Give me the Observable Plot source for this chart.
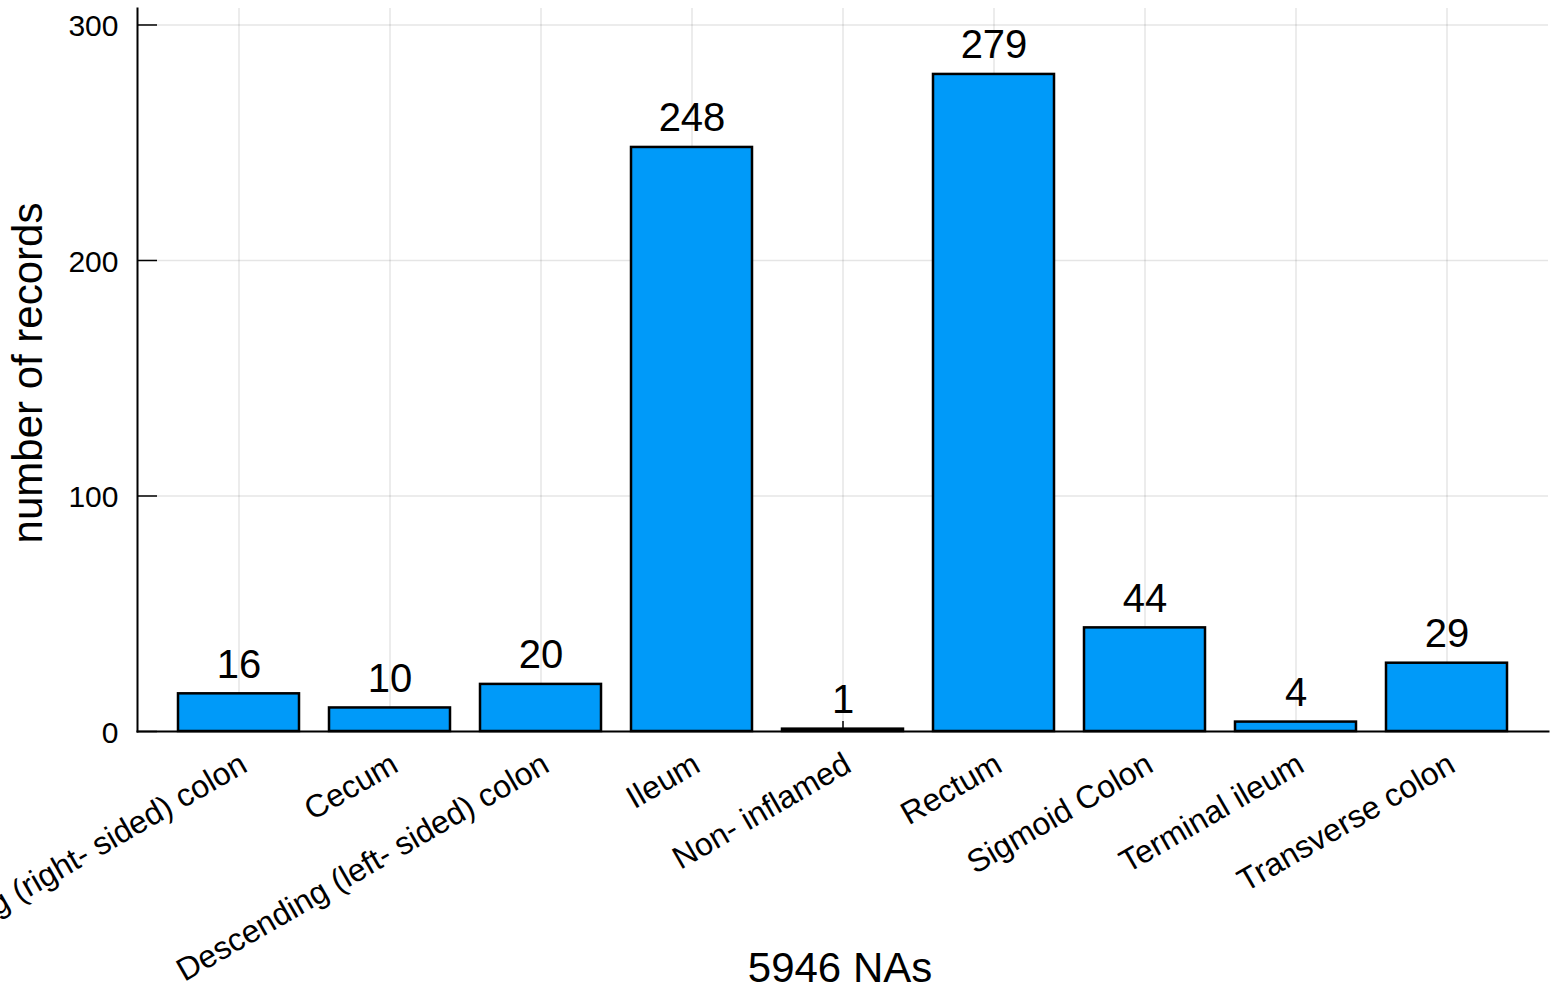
<!DOCTYPE html>
<html>
<head>
<meta charset="utf-8">
<script src="https://cdn.jsdelivr.net/npm/d3@7"></script>
<script src="https://cdn.jsdelivr.net/npm/@observablehq/plot@0.6"></script>
<style>
  html, body { margin: 0; padding: 0; background: #fff; }
  #chart { width: 1550px; height: 990px; overflow: hidden; }
</style>
</head>
<body>
<div id="chart"></div>
<script>
const categories = [
  "Ascending (right- sided) colon",
  "Cecum",
  "Descending (left- sided) colon",
  "Ileum",
  "Non- inflamed",
  "Rectum",
  "Sigmoid Colon",
  "Terminal ileum",
  "Transverse colon"
];
const counts = [16, 10, 20, 248, 1, 279, 44, 4, 29];
const yTicks = [0, 100, 200, 300];
const xTitle = "5946 NAs";
const yTitle = "number of records";

const rows = categories.map((c, i) => ({category: c, count: counts[i]}));

const FONT = "'Liberation Sans', Arial, Helvetica, sans-serif";
const gridStyle = {stroke: "#000", strokeOpacity: 0.1, strokeWidth: 1.5};

const chart = Plot.plot({
  width: 1550,
  height: 990,
  marginLeft: 137,
  marginRight: 2,
  marginTop: 8,
  marginBottom: 259,
  style: {fontFamily: FONT, background: "#fff", color: "#000", overflow: "hidden"},
  x: {domain: categories, paddingInner: 0.2, paddingOuter: 0.26, axis: null},
  y: {domain: [0, 307], axis: null},
  marks: [
    Plot.gridX(categories, {x: d => d, ...gridStyle}),
    Plot.gridY(yTicks, {y: d => d, ...gridStyle}),
    Plot.axisX(categories, {tickSize: -10, fill: "none", label: null, stroke: "#000", strokeWidth: 1.5}),
    Plot.barY(rows, {x: "category", y: "count", fill: "#009af9", stroke: "#000", strokeWidth: 2.5}),
    Plot.frame({anchor: "left", stroke: "#000", strokeWidth: 2}),
    Plot.frame({anchor: "bottom", stroke: "#000", strokeWidth: 2}),
    Plot.axisY(yTicks, {tickSize: -20, fill: "none", label: null, stroke: "#000", strokeWidth: 1.5}),
    Plot.axisY(yTicks, {tickSize: 0, tickPadding: 19, fontSize: 30, label: null, dy: 1.5, fill: "#000"}),
    Plot.axisX(categories, {
      tickSize: 0, tickPadding: 30, tickRotate: -30,
      textAnchor: "end", lineAnchor: "middle", dx: 5,
      fontSize: 32, label: null, fill: "#000"
    }),
    Plot.text(rows, {
      x: "category", y: "count", text: d => String(d.count),
      lineAnchor: "bottom", dy: -16, fontSize: 40, fill: "#000"
    }),
    Plot.text([xTitle], {
      frameAnchor: "bottom", text: d => d, lineAnchor: "bottom", textAnchor: "middle",
      dx: -3, dy: 250, fontSize: 42, fill: "#000"
    }),
    Plot.text([yTitle], {
      frameAnchor: "left", text: d => d, rotate: -90, lineAnchor: "top", textAnchor: "middle",
      dx: -125, dy: 3, fontSize: 42, fill: "#000"
    })
  ]
});
document.getElementById("chart").appendChild(chart);
</script>
</body>
</html>
